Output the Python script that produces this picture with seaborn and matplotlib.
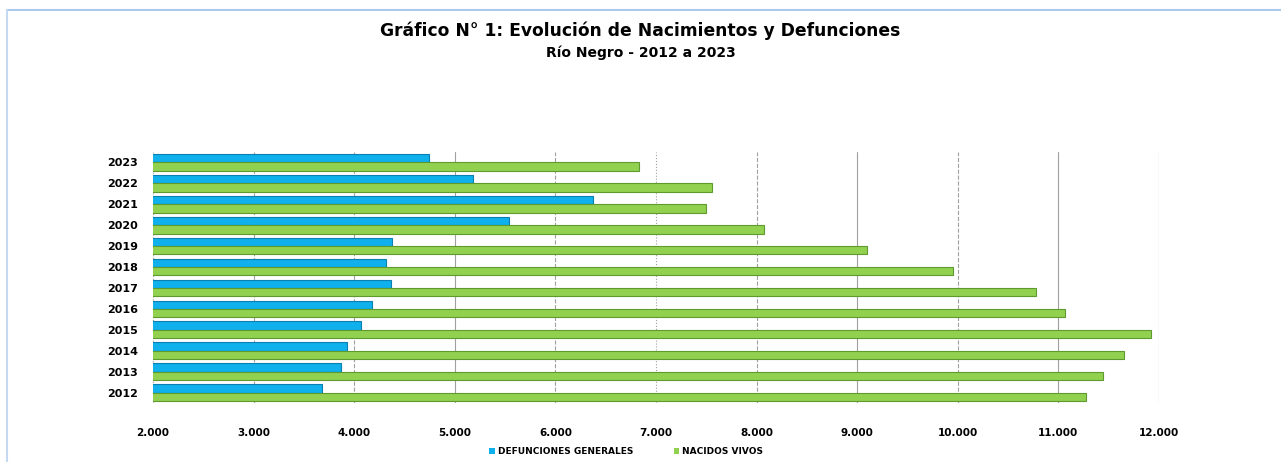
import matplotlib
matplotlib.use("Agg")
import matplotlib.pyplot as plt
import seaborn as sns
import pandas as pd
from matplotlib.lines import Line2D
from matplotlib.patches import Patch

years = ["2023", "2022", "2021", "2020", "2019", "2018", "2017", "2016", "2015", "2014", "2013", "2012"]
defunciones = [4740, 5180, 6370, 5540, 4380, 4320, 4370, 4180, 4070, 3930, 3870, 3680]
nacidos = [6830, 7560, 7500, 8070, 9100, 9950, 10780, 11070, 11920, 11650, 11440, 11270]
series = ["DEFUNCIONES GENERALES", "NACIDOS VIVOS"]
xticks = [2000, 3000, 4000, 5000, 6000, 7000, 8000, 9000, 10000, 11000, 12000]

df = pd.DataFrame({
    "year": years * 2,
    "value": defunciones + nacidos,
    "serie": [series[0]] * len(years) + [series[1]] * len(years),
})

sns.set_theme(style="white")
plt.rcParams["font.family"] = ["DejaVu Sans"]
plt.rcParams["text.color"] = "black"
plt.rcParams["xtick.color"] = "black"
plt.rcParams["ytick.color"] = "black"

fig = plt.figure(figsize=(12.81, 4.62), dpi=100)
ax = fig.add_axes([153 / 1281, 1 - 403 / 462, (1159 - 153) / 1281, 251 / 462])

palette = {series[0]: "#10B0EC", series[1]: "#92D050"}
sns.barplot(data=df, x="value", y="year", hue="serie", order=years, hue_order=series,
            palette=palette, orient="h", width=0.8, saturation=1, ax=ax, legend=False,
            zorder=3)

edge = {0: "#0A7FB0", 1: "#5E9A2E"}
n = len(years)
for i, p in enumerate(ax.patches[:2 * n]):
    p.set_edgecolor(edge[i // n])
    p.set_linewidth(0.8)

ax.set_xlim(2000, 12000)
ax.set_ylim(n - 0.5, -0.5)
ax.set_xticks(xticks)
ax.set_xticklabels([f"{v:,}".replace(",", ".") for v in xticks], fontsize=7.5, fontweight="bold")
ax.tick_params(axis="x", pad=18, length=0)
ax.tick_params(axis="y", pad=11, length=0)
for lab in ax.get_yticklabels():
    lab.set_fontsize(8)
    lab.set_fontweight("bold")
ax.set_xlabel("")
ax.set_ylabel("")

styles = {2000: ":", 3000: "--", 4000: "--", 5000: "-", 6000: "--", 7000: ":",
          8000: "--", 9000: "-", 10000: "--", 11000: "-", 12000: "-"}
for v in xticks:
    ax.axvline(v, color="#a0a0a0", lw=0.8, ls=styles[v], zorder=1)
for s in ax.spines.values():
    s.set_visible(False)

fig.text(0.5, 1 - 31 / 462, "Gráfico N° 1: Evolución de Nacimientos y Defunciones",
         ha="center", va="center", fontsize=12.3, fontweight="bold")
fig.text(0.5, 1 - 53 / 462, "Río Negro - 2012 a 2023",
         ha="center", va="center", fontsize=10, fontweight="bold")

handles = [Patch(facecolor=palette[s], edgecolor="none", label=s) for s in series]
fig.legend(handles=handles, loc="center", bbox_to_anchor=(626 / 1281, 1 - 452 / 462), ncol=2,
           frameon=False, prop={"size": 6.5, "weight": "bold"}, handlelength=0.6,
           handleheight=0.6, handletextpad=0.3, columnspacing=4.5)

fig.add_artist(Line2D([7 / 1281, 1], [1 - 10 / 462, 1 - 10 / 462], color="#A9C9EE", lw=1.5,
                      transform=fig.transFigure))
fig.add_artist(Line2D([7 / 1281, 7 / 1281], [0, 1 - 10 / 462], color="#C5D9F1", lw=1.5,
                      transform=fig.transFigure))

fig.savefig("out.png", dpi=100)
